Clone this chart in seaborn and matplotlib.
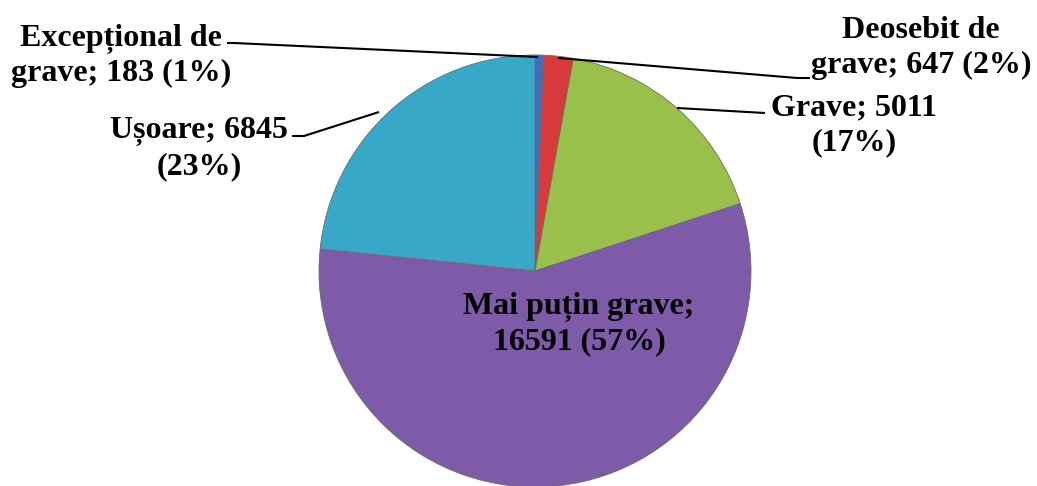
import matplotlib
matplotlib.use("Agg")
import matplotlib.pyplot as plt
import seaborn as sns

categories = ["Excepțional de grave", "Deosebit de grave", "Grave", "Mai puțin grave", "Ușoare"]
values = [183, 647, 5011, 16591, 6845]
label_texts = ["Excepțional de\ngrave; 183 (1%)", "Deosebit de\ngrave; 647 (2%)",
               "Grave; 5011\n(17%)", "Mai puțin grave;\n16591 (57%)", "Ușoare; 6845\n(23%)"]
colors = ["#3A6FC0", "#D8393A", "#98C04A", "#7E5BA8", "#37A8C8"]

sns.set_theme(style="white")
plt.rcParams['font.family'] = ['Liberation Serif', 'DejaVu Serif']

W, H = 1037, 486
fig = plt.figure(figsize=(W / 100, H / 100), dpi=100)
ax = fig.add_axes([0, 0, 1, 1])

def Y(y):
    return H - y

cx, cy, r = 535, 271, 216
palette = sns.color_palette(colors)
ax.pie(values, colors=palette, startangle=90, counterclock=False,
       center=(cx, Y(cy)), radius=r, frame=True,
       wedgeprops=dict(edgecolor="#6a6a6a", linewidth=0.6))
ax.set_xlim(0, W)
ax.set_ylim(0, H)
ax.axis("off")

# label positions (pixel coords of text block centres)
label_pos = [(121, 56), (921, 48), (854, 125), (579, 324), (199, 149)]
for txt, (x, y) in zip(label_texts, label_pos):
    ax.text(x, Y(y), txt, ha="center", va="center", fontsize=23,
            fontweight="bold", color="black", linespacing=1.25)

# leader lines
leaders = [
    [(227, 43), (234, 43), (538, 57)],
    [(558, 58), (797, 78), (810, 78)],
    [(677, 108), (765, 113)],
    [(292, 136), (304, 136), (379, 112)],
]
for pts in leaders:
    xs = [p[0] for p in pts]
    ys = [Y(p[1]) for p in pts]
    ax.plot(xs, ys, color="black", linewidth=1.5, solid_capstyle="butt")

fig.savefig("out.png", dpi=100)
